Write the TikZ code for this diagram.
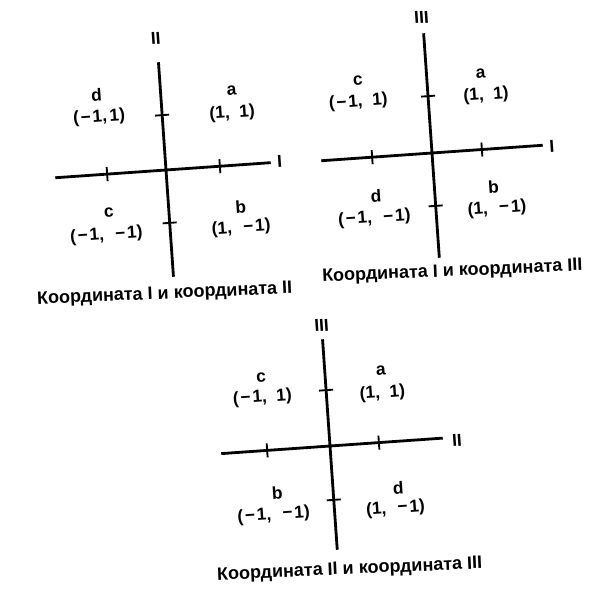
\documentclass[tikz,border=0pt]{standalone}
\usepackage{fontspec}
\setmainfont{Liberation Sans}
\usetikzlibrary{positioning}
\newcommand{\mns}{\kern0.1em−\kern0.1em}
\newcommand{\widesp}{\spaceskip=0.55em\relax}

\begin{document}
\begin{tikzpicture}[
    x=0.75pt, y=0.75pt,
    axis/.style={line width=2.1pt},
    tick/.style={line width=1.4pt},
    lbl/.style={font=\bfseries\fontsize{13}{15}\selectfont, execute at begin node=\widesp, inner sep=0pt},
    axlbl/.style={font=\bfseries\fontsize{13}{15}\selectfont, inner sep=0pt},
    captext/.style={font=\bfseries\fontsize{13.5}{16}\selectfont, inner sep=0pt, rotate=-1.5},
]
\useasboundingbox (0,0) rectangle (596,594);

% Coordinate I and coordinate II
\begin{scope}[shift={(166,424)}, rotate=4, transform shape]
\coordinate (xl1) at (-111,0);
\coordinate (xr1) at (105,0);
\coordinate (yt1) at (0,108);
\coordinate (yb1) at (0,-107);
\draw[axis] (xl1) -- (xr1);
\draw[axis] (yb1) -- (yt1);
\foreach \t in {-59,54} \draw[tick] (\t,-7) -- (\t,7);
\foreach \t in {-53,55} \draw[tick] (-7,\t) -- (7,\t);
\node[axlbl] (h1) at (114,1) {I};
\node[axlbl] (v1) at (-1,132) {II};
\node[lbl] (d1) at (-64,80) {d};
\node[lbl] (d1c) at (-63,57) {(\mns1,\kern0.15em1)};
\node[lbl] (a1) at (71,75) {a};
\node[lbl] (a1c) at (70,52) {(1, 1)};
\node[lbl] (c1) at (-60,-39) {c};
\node[lbl] (c1c) at (-64,-61) {(\mns1, \mns1)};
\node[lbl] (b1) at (72,-42) {b};
\node[lbl] (b1c) at (71,-63) {(1, \mns1)};
\node[captext] (cap1) at (-10,-124) {Координата I и координата II};
\end{scope}

% Coordinate I and coordinate III
\begin{scope}[shift={(432,441)}, rotate=4, transform shape]
\coordinate (xl2) at (-111,0);
\coordinate (xr2) at (111,0);
\coordinate (yt2) at (0,120);
\coordinate (yb2) at (0,-105);
\draw[axis] (xl2) -- (xr2);
\draw[axis] (yb2) -- (yt2);
\foreach \t in {-60,50} \draw[tick] (\t,-7) -- (\t,7);
\foreach \t in {-53,57} \draw[tick] (-7,\t) -- (7,\t);
\node[axlbl] (h2) at (120,-2) {I};
\node[axlbl] (v2) at (-1,136) {III};
\node[lbl] (c2) at (-69,77) {c};
\node[lbl] (c2c) at (-70,56) {(\mns1, 1)};
\node[lbl] (a2) at (54,76) {a};
\node[lbl] (a2c) at (58,54) {(1, 1)};
\node[lbl] (d2) at (-59,-39) {d};
\node[lbl] (d2c) at (-62,-61) {(\mns1, \mns1)};
\node[lbl] (b2) at (59,-38) {b};
\node[lbl] (b2c) at (61,-60) {(1, \mns1)};
\node[captext] (cap2) at (12,-120) {Координата I и координата III};
\end{scope}

% Coordinate II and coordinate III
\begin{scope}[shift={(330,148)}, rotate=4, transform shape]
\coordinate (xl3) at (-109,0);
\coordinate (xr3) at (113,0);
\coordinate (yt3) at (0,107);
\coordinate (yb3) at (0,-104);
\draw[axis] (xl3) -- (xr3);
\draw[axis] (yb3) -- (yt3);
\foreach \t in {-63,49} \draw[tick] (\t,-7) -- (\t,7);
\foreach \t in {-54,56} \draw[tick] (-7,\t) -- (7,\t);
\node[axlbl] (h3) at (127,-3) {II};
\node[axlbl] (v3) at (0,121) {III};
\node[lbl] (c3) at (-64,73) {c};
\node[lbl] (c3c) at (-64,53) {(\mns1, 1)};
\node[lbl] (a3) at (56,72) {a};
\node[lbl] (a3c) at (56,49) {(1, 1)};
\node[lbl] (b3) at (-56,-43) {b};
\node[lbl] (b3c) at (-61,-65) {(\mns1, \mns1)};
\node[lbl] (d3) at (65,-47) {d};
\node[lbl] (d3c) at (61,-67) {(1, \mns1)};
\node[captext] (cap3) at (11,-125) {Координата II и координата III};
\end{scope}
\end{tikzpicture}
\end{document}
